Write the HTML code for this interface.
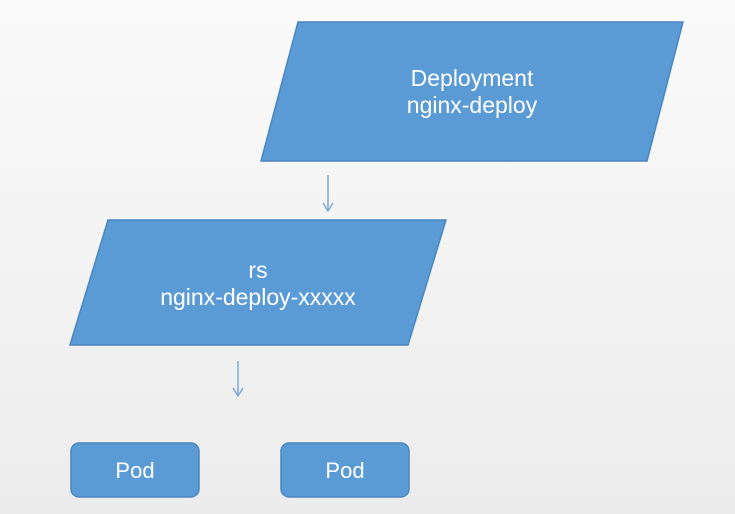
<!DOCTYPE html>
<html><head><meta charset="utf-8"><style>
html,body{margin:0;padding:0;width:735px;height:514px;overflow:hidden;background:linear-gradient(#fafafa,#ececec);}
text{font-family:"Liberation Sans",sans-serif;fill:#fff;}
</style></head><body>
<svg width="735" height="514" viewBox="0 0 735 514">
<polygon points="298,22 683,22 647,161 261,161" fill="#5b9bd5" stroke="#4a86bf" stroke-width="1.5"/>
<text x="472" y="86" font-size="23" text-anchor="middle">Deployment</text>
<text x="472" y="113" font-size="23" text-anchor="middle">nginx-deploy</text>
<line x1="328" y1="175" x2="328" y2="211" stroke="#7aaad8" stroke-width="1.5"/>
<polyline points="323,203 328,211 333,203" fill="none" stroke="#7aaad8" stroke-width="1.5"/>
<polygon points="108,220 446,220 408,345 70,345" fill="#5b9bd5" stroke="#4a86bf" stroke-width="1.5"/>
<text x="258" y="278" font-size="23" text-anchor="middle">rs</text>
<text x="258" y="305" font-size="23" text-anchor="middle">nginx-deploy-xxxxx</text>
<line x1="238" y1="361" x2="238" y2="396" stroke="#7aaad8" stroke-width="1.5"/>
<polyline points="233,388 238,396 243,388" fill="none" stroke="#7aaad8" stroke-width="1.5"/>
<rect x="71" y="443" width="128" height="54" rx="8" fill="#5b9bd5" stroke="#4a86bf" stroke-width="1.5"/>
<text x="135" y="478" font-size="22" text-anchor="middle">Pod</text>
<rect x="281" y="443" width="128" height="54" rx="8" fill="#5b9bd5" stroke="#4a86bf" stroke-width="1.5"/>
<text x="345" y="478" font-size="22" text-anchor="middle">Pod</text>
</svg>
</body></html>
